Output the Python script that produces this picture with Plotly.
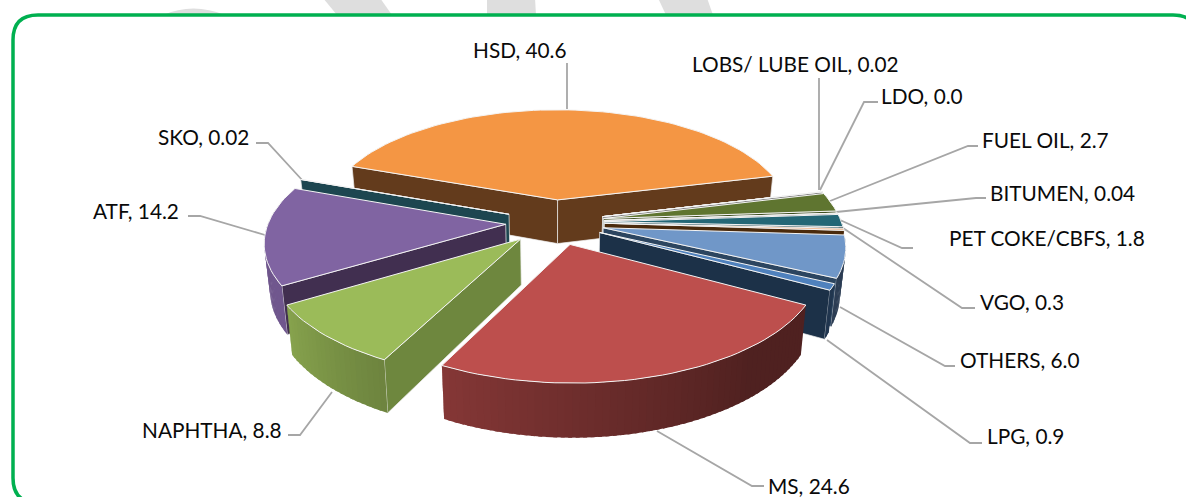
import math
import plotly.graph_objects as go

# ---- data ----
CATEGORIES = ["HSD", "LOBS/ LUBE OIL", "LDO", "FUEL OIL", "BITUMEN", "PET COKE/CBFS",
              "VGO", "OTHERS", "LPG", "MS", "NAPHTHA", "ATF", "SKO"]
VALUES = [40.6, 0.02, 0.0, 2.7, 0.04, 1.8, 0.3, 6.0, 0.9, 24.6, 8.8, 14.2, 0.02]
VALUE_TEXT = ["40.6", "0.02", "0.0", "2.7", "0.04", "1.8", "0.3", "6.0", "0.9", "24.6", "8.8", "14.2", "0.02"]

# ---- styling ----
TOP = ["#F49644", "#C9D6A8", "#E8E8E8", "#5F7530", "#D8D8D8", "#246776", "#F0B890", "#7097C8",
       "#4F81BD", "#BD4F4D", "#9BBB59", "#8064A2", "#2A6A78"]
SIDE = ["#633B1C", "#5F7530", "#808080", "#3E4E20", "#808080", "#1B4A54", "#4A2A0C", "#2C4560",
        "#1C3148", "#4E1F1E", "#6E873E", "#412F50", "#1D4650"]
ARC = ["#F49644", "#9BBB59", "#A0A0A0", "#5F7530", "#A0A0A0", "#246776", "#C07030", "#6A92C8",
       "#4F81BD", "#BD4F4D", "#9BBB59", "#8064A2", "#2A6A78"]
RADII = [0.955, 0.96, 0.96, 0.96, 0.96, 0.96, 0.96, 0.96, 0.96, 0.975, 0.985, 0.96, 0.96]

# projection of the tilted disc
CX, CY, A, B, K, H, TAPER = 555.0, 222.0, 247.0, 114.0, 0.15, 45.0, 0.02
EXPLODE, START = 0.2, -70.0

LABEL_POS = [(471, 49), (690, 63), (879, 95), (980, 139), (988, 192), (947, 237), (978, 301),
             (958, 359), (985, 435), (766, 485), (140, 429), (91, 210), (156, 136)]
LEADERS = [
    [(567, 109), (567, 63)],
    [(819, 190), (819, 78)],
    [(820, 190), (864, 102), (878, 102)],
    [(830, 201), (968, 146), (978, 146)],
    [(836, 212), (976, 198), (986, 198)],
    [(840, 220), (902, 248), (913, 248)],
    [(843, 228), (962, 308), (975, 308)],
    [(840, 307), (945, 366), (955, 366)],
    [(827, 340), (970, 443), (982, 443)],
    [(657, 431), (752, 486), (764, 486)],
    [(332, 392), (300, 435), (288, 435)],
    [(265, 235), (200, 216), (188, 216)],
    [(303, 181), (268, 143), (256, 143)],
]


def proj(u, v, z=0.0):
    w = 1 - K * v
    return CX + A * u / w * (1 - TAPER * z), CY + (B * v + H * z) / w


def shade(hex_color, f):
    r, g, b = (int(hex_color[i:i + 2], 16) for i in (1, 3, 5))
    return f"rgb({int(r * f)},{int(g * f)},{int(b * f)})"


def arc_factor(t):
    pts = [(60, .42), (140, .42), (206, .70), (240, .88), (300, .85)]
    t = t % 360
    for (a, fa), (b, fb) in zip(pts, pts[1:]):
        if a <= t <= b:
            return fa + (fb - fa) * (t - a) / (b - a)
    return .42


fig = go.Figure()


def poly(pts, fill, line, width):
    xs = [p[0] for p in pts] + [pts[0][0]]
    ys = [p[1] for p in pts] + [pts[0][1]]
    fig.add_trace(go.Scatter(x=xs, y=ys, mode="lines", fill="toself", fillcolor=fill,
                             line=dict(color=line, width=width), hoverinfo="skip", showlegend=False))


# leaders go under the pie
for seg in LEADERS:
    fig.add_trace(go.Scatter(x=[p[0] for p in seg], y=[p[1] for p in seg], mode="lines",
                             line=dict(color="#A6A6A6", width=1.8), hoverinfo="skip", showlegend=False))

total = sum(VALUES)
spans = []
a = START
for val in VALUES:
    b = a + val / total * 360
    spans.append((a, b))
    a = b

order = sorted(range(len(VALUES)), key=lambda i: -math.cos(math.radians((spans[i][0] + spans[i][1]) / 2)))
for i in order:
    t0, t1 = spans[i]
    mid = math.radians((t0 + t1) / 2)
    ou, ov = EXPLODE * math.sin(mid), -EXPLODE * math.cos(mid)
    radius = RADII[i]


    def rim(deg, z=0.0):
        r = math.radians(deg)
        return proj(ou + radius * math.sin(r), ov - radius * math.cos(r), z)


    apex_t, apex_b = proj(ou, ov), proj(ou, ov, 1)
    # radial walls that face the viewer
    if math.sin(math.radians(t0)) < 0:
        poly([apex_t, rim(t0), rim(t0, 1), apex_b], SIDE[i], "rgba(235,235,235,0.9)", 0.8)
    if math.sin(math.radians(t1)) > 0:
        poly([apex_t, rim(t1), rim(t1, 1), apex_b], SIDE[i], "rgba(235,235,235,0.9)", 0.8)
    # outer wall, stepped so the shade changes along it; each step overlaps the next
    lo, hi = max(t0, 88), min(t1, 272)
    deg = lo
    while deg < hi:
        nxt = min(deg + 1.5, hi)
        c = shade(ARC[i], arc_factor((deg + nxt) / 2))
        end = min(nxt + 0.8, hi)
        poly([rim(deg), rim(end), rim(end, 1), rim(deg, 1)], c, c, 0)
        deg = nxt
    # top face
    n = max(2, int((t1 - t0) / 2) + 2)
    pts = [apex_t] + [rim(t0 + (t1 - t0) * j / (n - 1)) for j in range(n)]
    poly(pts, TOP[i], "#F4F4F4", 1)

annotations = [
    dict(x=p[0], y=p[1], xref="x", yref="y", xanchor="left", yanchor="middle", showarrow=False,
         text=f"{c}, {t}", font=dict(family="Lato", size=20.8, color="#0A0A0A"))
    for c, t, p in zip(CATEGORIES, VALUE_TEXT, LABEL_POS)
]

GREY = "#DEDEDE"
shapes = [
    dict(type="path", layer="below", xref="x", yref="y", line=dict(width=0), fillcolor=GREY,
         path="M 323 -2 L 380 -2 L 392 15 L 337 15 Z"),
    dict(type="path", layer="below", xref="x", yref="y", line=dict(width=0), fillcolor=GREY,
         path="M 487 -2 L 535 -2 L 536 15 L 487 15 Z"),
    dict(type="path", layer="below", xref="x", yref="y", line=dict(width=0), fillcolor=GREY,
         path="M 658 -2 L 707 -2 L 713 15 L 666 15 Z"),
    dict(type="path", layer="below", xref="x", yref="y", line=dict(width=0), fillcolor=GREY,
         path="M 163 15 Q 193 2 225 15 Z"),
    dict(type="path", layer="below", xref="x", yref="y", line=dict(color="#00B050", width=3.5),
         fillcolor="rgba(255,255,255,0)",
         path="M 38 15 L 1173 15 Q 1198 15 1198 40 L 1198 478 Q 1198 503 1173 503 L 38 503 "
              "Q 13 503 13 478 L 13 40 Q 13 15 38 15 Z"),
]

fig.update_layout(
    width=1186, height=497, margin=dict(l=0, r=0, t=0, b=0),
    paper_bgcolor="white", plot_bgcolor="white", showlegend=False,
    xaxis=dict(range=[0, 1186], visible=False, fixedrange=True),
    yaxis=dict(range=[497, 0], visible=False, fixedrange=True),
    annotations=annotations, shapes=shapes,
)
fig.write_html("out.html", config=dict(displayModeBar=False),
               post_script="document.body.style.margin='0';document.body.style.overflow='hidden';")
